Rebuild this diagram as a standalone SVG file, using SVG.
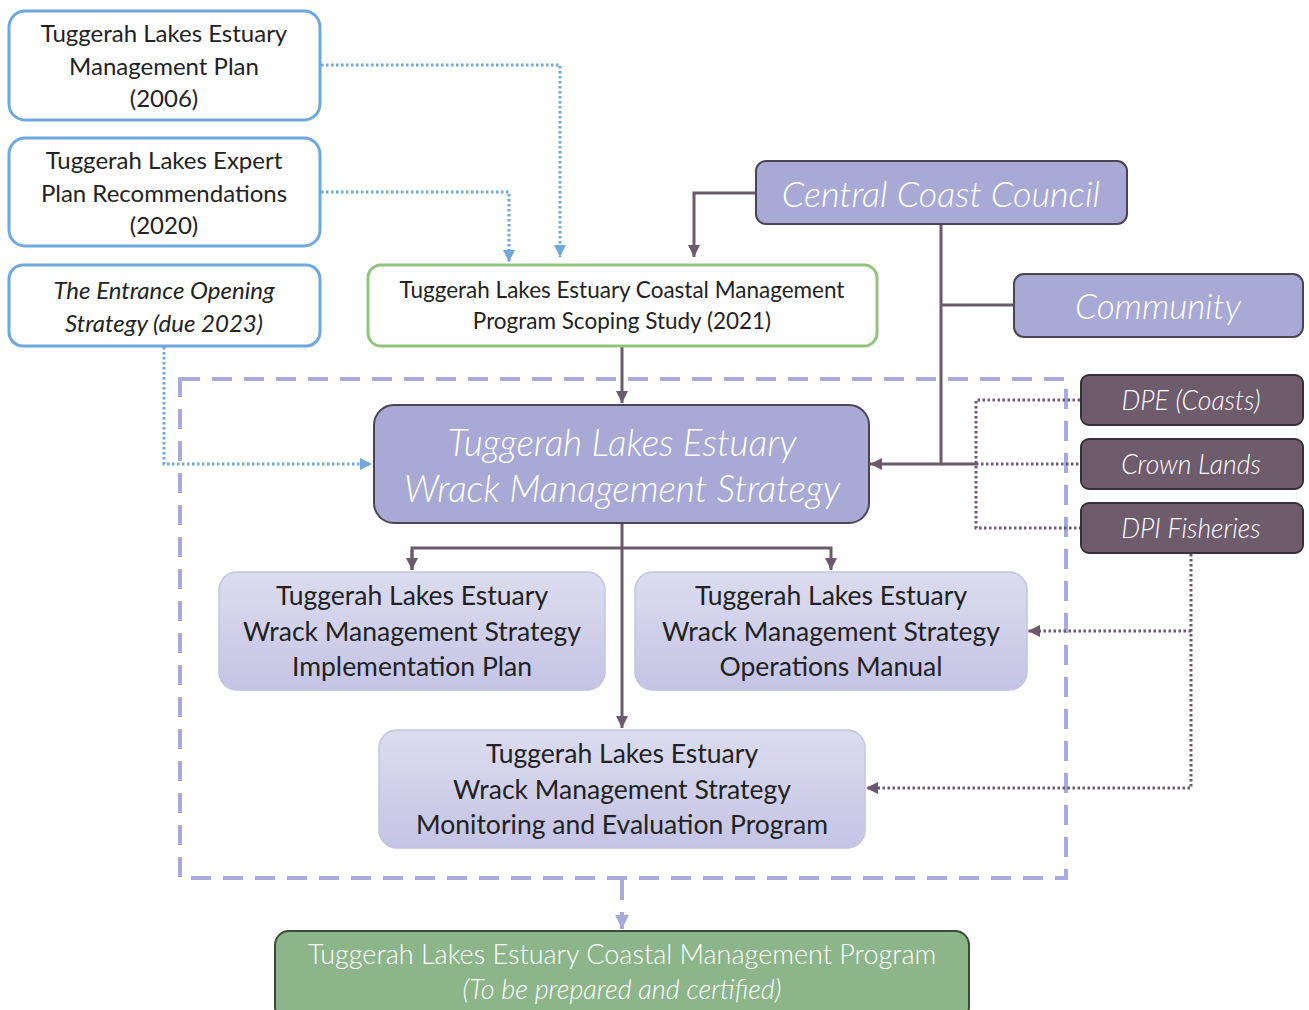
<svg xmlns="http://www.w3.org/2000/svg" width="1309" height="1010" viewBox="0 0 1309 1010">
<defs>
<style>
text{font-family:Lato,"Liberation Sans",sans-serif;text-anchor:middle;dominant-baseline:central}
.ref{fill:#fff;stroke:#6fa8dc;stroke-width:3}
.scope{fill:#fff;stroke:#93c47d;stroke-width:3}
.lav{fill:#a8a9d5;stroke:#4d4453;stroke-width:2}
.mauve{fill:#6e5b6c;stroke:#3a3038;stroke-width:2}
.sub{fill:url(#subg);stroke:#c3c3e4;stroke-width:1.5}
.final{fill:#8db58a;stroke:#3d4a3a;stroke-width:2}
.dk{fill:#222}
.wt{fill:#fff;font-weight:300}
.it{font-style:italic}
.blue{fill:none;stroke:#6fa8dc;stroke-width:3;stroke-dasharray:2.5 2.5}
.solid{fill:none;stroke:#6b5a6b;stroke-width:3}
.dot{fill:none;stroke:#6b5a6b;stroke-width:3;stroke-dasharray:2.5 2.5}
.dash{fill:none;stroke:#a8a9dc;stroke-width:4;stroke-dasharray:20 12}
</style>
<linearGradient id="subg" x1="0" y1="0" x2="0" y2="1">
<stop offset="0" stop-color="#dcdcef"/>
<stop offset="1" stop-color="#c4c4e5"/>
</linearGradient>
<marker id="ab" markerUnits="userSpaceOnUse" markerWidth="14" markerHeight="14" refX="12" refY="7" orient="auto"><path d="M0,1 L12,7 L0,13 z" fill="#6fa8dc"/></marker>
<marker id="ad" markerUnits="userSpaceOnUse" markerWidth="14" markerHeight="14" refX="12" refY="7" orient="auto"><path d="M0,1 L12,7 L0,13 z" fill="#6b5a6b"/></marker>
<marker id="al" markerUnits="userSpaceOnUse" markerWidth="16" markerHeight="16" refX="14" refY="8" orient="auto"><path d="M0,1 L14,8 L0,15 z" fill="#a8a9dc"/></marker>
</defs>

<rect x="180" y="379" width="886" height="499" class="dash"/>

<g id="connectors">
<polyline class="blue" points="321,65 560,65 560,257" marker-end="url(#ab)"/>
<polyline class="blue" points="321,192 509,192 509,262" marker-end="url(#ab)"/>
<polyline class="blue" points="164,347 164,464 372,464" marker-end="url(#ab)"/>
<polyline class="solid" points="755,193 694,193 694,257" marker-end="url(#ad)"/>
<polyline class="solid" points="941,225 941,464 870,464" marker-end="url(#ad)"/>
<line class="solid" x1="941" y1="464" x2="976" y2="464"/>
<line class="solid" x1="1013" y1="305" x2="941" y2="305"/>
<line class="solid" x1="622" y1="347" x2="622" y2="403" marker-end="url(#ad)"/>
<line class="solid" x1="622" y1="524" x2="622" y2="728" marker-end="url(#ad)"/>
<polyline class="solid" points="412,570 412,548 831,548 831,570" marker-end="url(#ad)"/>
<line class="solid" x1="412" y1="550" x2="412" y2="570" marker-end="url(#ad)"/>
<polyline class="dot" points="1080,400 976,400 976,528 1080,528"/>
<line class="dot" x1="976" y1="464" x2="1080" y2="464"/>
<polyline class="dot" points="1191,554 1191,788 866,788" marker-end="url(#ad)"/>
<line class="dot" x1="1191" y1="631" x2="1028" y2="631" marker-end="url(#ad)"/>
<line class="dash" x1="622" y1="880" x2="622" y2="929" stroke-dasharray="14 7" marker-end="url(#al)"/>
</g>

<g id="n-emp">
<rect x="9" y="11" width="311" height="109" rx="16" class="ref"/>
<text x="164" y="32" font-size="24" class="dk">Tuggerah Lakes Estuary</text>
<text x="164" y="65" font-size="24" class="dk">Management Plan</text>
<text x="164" y="97" font-size="24" class="dk">(2006)</text>
</g>
<g id="n-expert">
<rect x="9" y="138" width="311" height="108" rx="16" class="ref"/>
<text x="164" y="159" font-size="24" class="dk">Tuggerah Lakes Expert</text>
<text x="164" y="192" font-size="24" class="dk">Plan Recommendations</text>
<text x="164" y="224" font-size="24" class="dk">(2020)</text>
</g>
<g id="n-entrance">
<rect x="9" y="265" width="311" height="81" rx="14" class="ref"/>
<text x="164" y="289" font-size="24" class="dk it">The Entrance Opening</text>
<text x="164" y="322" font-size="24" class="dk it">Strategy (due 2023)</text>
</g>
<g id="n-scoping">
<rect x="368" y="265" width="509" height="81" rx="13" class="scope"/>
<text x="622" y="289" font-size="22.5" class="dk">Tuggerah Lakes Estuary Coastal Management</text>
<text x="622" y="320" font-size="22.5" class="dk">Program Scoping Study (2021)</text>
</g>
<g id="n-ccc">
<rect x="756" y="161" width="371" height="63" rx="10" class="lav"/>
<text x="941" y="193" font-size="36" class="wt it">Central Coast Council</text>
</g>
<g id="n-community">
<rect x="1014" y="274" width="289" height="63" rx="10" class="lav"/>
<text x="1158" y="305" font-size="35" class="wt it">Community</text>
</g>
<g id="n-dpe">
<rect x="1081" y="375" width="222" height="50" rx="8" class="mauve"/>
<text x="1191" y="400" font-size="26.5" class="wt it">DPE (Coasts)</text>
</g>
<g id="n-crown">
<rect x="1081" y="439" width="222" height="50" rx="8" class="mauve"/>
<text x="1191" y="464" font-size="26.5" class="wt it">Crown Lands</text>
</g>
<g id="n-dpi">
<rect x="1081" y="503" width="222" height="50" rx="8" class="mauve"/>
<text x="1191" y="528" font-size="26.5" class="wt it">DPI Fisheries</text>
</g>
<g id="n-wms">
<rect x="374" y="405" width="495" height="118" rx="20" class="lav"/>
<text x="622" y="441" font-size="37" class="wt it">Tuggerah Lakes Estuary</text>
<text x="622" y="487" font-size="37" class="wt it">Wrack Management Strategy</text>
</g>
<g id="n-impl">
<rect x="219" y="572" width="386" height="118" rx="18" class="sub"/>
<text x="412" y="595" font-size="26.5" class="dk">Tuggerah Lakes Estuary</text>
<text x="412" y="631" font-size="26.5" class="dk">Wrack Management Strategy</text>
<text x="412" y="666" font-size="26.5" class="dk">Implementation Plan</text>
</g>
<g id="n-ops">
<rect x="635" y="572" width="392" height="118" rx="18" class="sub"/>
<text x="831" y="595" font-size="26.5" class="dk">Tuggerah Lakes Estuary</text>
<text x="831" y="631" font-size="26.5" class="dk">Wrack Management Strategy</text>
<text x="831" y="666" font-size="26.5" class="dk">Operations Manual</text>
</g>
<g id="n-mon">
<rect x="379" y="730" width="486" height="118" rx="18" class="sub"/>
<text x="622" y="753" font-size="26.5" class="dk">Tuggerah Lakes Estuary</text>
<text x="622" y="789" font-size="26.5" class="dk">Wrack Management Strategy</text>
<text x="622" y="824" font-size="26.5" class="dk">Monitoring and Evaluation Program</text>
</g>
<g id="n-cmp">
<rect x="275" y="931" width="694" height="90" rx="14" class="final"/>
<text x="622" y="953" font-size="27" class="wt">Tuggerah Lakes Estuary Coastal Management Program</text>
<text x="622" y="988" font-size="27" class="wt it">(To be prepared and certified)</text>
</g>
</svg>
